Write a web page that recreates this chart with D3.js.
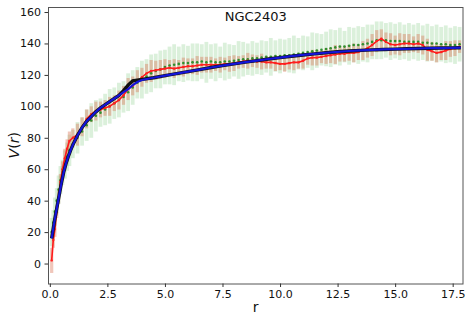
<!DOCTYPE html>
<html>
<head>
<meta charset="utf-8">
<script src="https://cdn.jsdelivr.net/npm/d3@7"></script>
<style>
  body { margin: 0; background: #fff; }
  text { font-family: "DejaVu Sans", sans-serif; }
</style>
</head>
<body>
<div id="chart"></div>
<script>
// Radii of the observed rotation curve points
const radius = [0.08,0.15,0.22,0.3,0.38,0.46,0.55,0.65,0.75,0.85,
  1.0,1.2,1.4,1.6,1.8,2.0,2.2,2.4,2.6,2.8,
  3.0,3.2,3.4,3.6,3.8,4.0,4.2,4.4,4.6,4.8,
  5.0,5.2,5.4,5.6,5.8,6.0,6.2,6.4,6.6,6.8,
  7.0,7.2,7.4,7.6,7.8,8.0,8.2,8.4,8.6,8.8,
  9.0,9.2,9.4,9.6,9.8,10.0,10.2,10.4,10.6,10.8,
  11.0,11.2,11.4,11.6,11.8,12.0,12.2,12.4,12.6,12.8,
  13.0,13.2,13.4,13.6,13.8,14.0,14.2,14.4,14.6,14.8,
  15.0,15.2,15.4,15.6,15.8,16.0,16.2,16.4,16.6,16.8,
  17.0,17.2,17.4,17.6,17.8];

// Green series (points + wide error bars)
const vGreen = [20,26,33,40,47,53,58,63,68,72,
  76,80,84,88,91,94,96,98,100,102,
  104,106,109,112,115,117,119,121,122.5,123.5,
  125,126,126.5,127,127.5,127.5,128,128,128.5,128,
  128.5,128,128,128.5,128.5,129,129.5,130,130,130.5,
  130.5,131,131.5,131.5,132,132,132.5,132.5,133,133.5,
  134,134.5,135,135.5,136,136.5,137,137.5,138,138,
  138.5,139,139,139.5,140,141,142,142,142,141.5,
  141.5,141.5,141,141,141,141,140.5,140.5,140,140,
  139.5,139.5,139,139,139.5];
const eGreen = [9,8,9,8,9,9,8,9,9,10,
  9,10,9,10,11,10,9,10,11,10,
  11,10,12,11,10,12,11,12,11,12,
  11,12,13,11,12,11,12,12,11,13,
  11,12,10,12,11,10,12,11,10,11,
  10,11,10,12,10,11,10,11,12,10,
  11,10,12,11,10,11,12,11,12,10,
  12,11,12,11,12,11,12,12,11,12,
  11,12,11,12,11,12,11,12,11,12,
  11,12,11,12,11];

// Red series (line + error bars)
const vRed = [2,15,22,33,42,52,60,67,73,78,
  80,82,87,92,95,97,98,99,100,102,
  104,107,111,113,116,118.5,121,122.5,123,123.5,
  124,124.5,124,124.5,125,125.5,125.5,126,126.5,126.5,
  126.5,126.5,126.5,127,127,127.5,128,128.5,129,129,
  128.5,128.5,128,128,127.5,127,127,127.5,128,128,
  129,130.5,131,131,131.5,132,132.5,133,133.5,133.5,
  134,134,134.5,135.5,137,139,141.5,143,141,139.5,
  139,139.5,140,140,139.5,140,139,136,135,134,
  134.5,135.5,136.5,137,138];
const eRed = [8,5,5,4,4,5,5,6,6,6,
  6,7,6,6,5,6,5,5,6,5,
  6,6,7,6,7,6,6,7,6,6,
  6,5,6,5,6,5,5,6,5,5,
  5,4,5,4,5,5,4,4,5,4,
  4,5,4,4,5,4,5,4,5,4,
  5,4,5,5,4,5,5,6,5,5,
  5,6,5,6,6,7,7,6,6,7,
  6,7,6,6,5,6,6,7,6,6,
  5,6,5,5,4];

// Model curves
const rModel = [0.08,0.2,0.3,0.4,0.5,0.6,0.7,0.8,0.9,1.0,1.2,1.4,1.6,1.8,2.0,2.2,
  2.5,2.8,3.0,3.2,3.4,3.6,3.8,4.0,4.5,5.0,5.5,6.0,6.5,7.0,7.5,8.0,8.5,9.0,9.5,
  10.0,10.5,11.0,11.5,12.0,12.5,13.0,13.5,14.0,14.5,15.0,15.5,16.0,16.5,17.0,17.5,17.85];
const vModel = [16,27,35,43,51,58,63.5,68,72,75.5,81.5,86.5,90.5,93.5,96.5,99,
  102,105,107,109,111,113.5,115.5,116.8,118.2,119.5,120.8,122.1,123.4,124.7,125.9,127,128.1,129.1,130.1,
  131,131.9,132.7,133.4,134.1,134.7,135.2,135.6,135.9,136.2,136.4,136.6,136.8,137,137.1,137.2,137.3];
const vBlack = [16,27,35,43,51,58,63.5,68,72,75.5,81.5,86.5,90.5,93.5,96.5,99,
  102,105,107,110,113.5,116.2,116.7,117.2,118.2,119.5,120.8,122.1,123.4,124.7,125.9,127,128.1,129.1,130.1,
  131,131.9,132.7,133.4,134.1,134.7,135.2,135.6,135.9,136.2,136.4,136.6,136.8,137,137.1,137.2,137.3];

const yTicks = [0,20,40,60,80,100,120,140,160];
const xTicks = [0,2.5,5,7.5,10,12.5,15,17.5];

const width = 471, height = 322;
const margin = {top: 7, right: 7.5, bottom: 38.5, left: 48};
const innerWidth = width - margin.left - margin.right;
const innerHeight = height - margin.top - margin.bottom;

const svg = d3.select("#chart").append("svg")
  .attr("width", width)
  .attr("height", height);

const g = svg.append("g")
  .attr("transform", `translate(${margin.left},${margin.top})`);

// Scales
const xScale = d3.scaleLinear().domain([-0.08, 17.97]).range([0, innerWidth]);
const yScale = d3.scaleLinear().domain([-12.7, 163.2]).range([innerHeight, 0]);

const green = radius.map((r, i) => ({r, v: vGreen[i], e: eGreen[i]}));
const red = radius.map((r, i) => ({r, v: vRed[i], e: eRed[i]}));

// Green error bars
g.append("g").selectAll("line")
  .data(green)
  .join("line")
  .attr("x1", d => xScale(d.r)).attr("x2", d => xScale(d.r))
  .attr("y1", d => yScale(d.v - d.e)).attr("y2", d => yScale(d.v + d.e))
  .attr("stroke", "#8fcf8f")
  .attr("stroke-opacity", 0.32)
  .attr("stroke-width", 3.8);

// Red error bars
g.append("g").selectAll("line")
  .data(red)
  .join("line")
  .attr("x1", d => xScale(d.r)).attr("x2", d => xScale(d.r))
  .attr("y1", d => yScale(d.v - d.e)).attr("y2", d => yScale(d.v + d.e))
  .attr("stroke", "#d8684a")
  .attr("stroke-opacity", 0.38)
  .attr("stroke-width", 3.2);

// Green points
g.append("g").selectAll("circle")
  .data(green)
  .join("circle")
  .attr("cx", d => xScale(d.r))
  .attr("cy", d => yScale(d.v))
  .attr("r", 1.3)
  .attr("fill", "#2f8f2f");

// Red line with markers
const line = d3.line()
  .x(d => xScale(d.r))
  .y(d => yScale(d.v));

g.append("path")
  .attr("d", line(red))
  .attr("fill", "none")
  .attr("stroke", "#ff1a1a")
  .attr("stroke-width", 1.6);

g.append("g").selectAll("circle")
  .data(red)
  .join("circle")
  .attr("cx", d => xScale(d.r))
  .attr("cy", d => yScale(d.v))
  .attr("r", 1.2)
  .attr("fill", "#ff2020");

// Black and blue model curves
g.append("path")
  .attr("d", line(rModel.map((r, i) => ({r, v: vBlack[i]}))))
  .attr("fill", "none")
  .attr("stroke", "#111")
  .attr("stroke-width", 3.4);

g.append("path")
  .attr("d", line(rModel.map((r, i) => ({r, v: vModel[i]}))))
  .attr("fill", "none")
  .attr("stroke", "#1414d8")
  .attr("stroke-width", 2.2);

// Frame
g.append("rect")
  .attr("x", 0.5).attr("y", 0.5)
  .attr("width", innerWidth - 1).attr("height", innerHeight)
  .attr("fill", "none")
  .attr("stroke", "#555")
  .attr("stroke-width", 1);

// Axes
const yAxis = g.append("g")
  .call(d3.axisLeft(yScale).tickValues(yTicks).tickSize(3.5).tickPadding(3.5).tickFormat(d3.format("d")));
const xAxis = g.append("g")
  .attr("transform", `translate(0,${innerHeight})`)
  .call(d3.axisBottom(xScale).tickValues(xTicks).tickSize(3.5).tickPadding(3.5).tickFormat(d3.format(".1f")));

[xAxis, yAxis].forEach(a => {
  a.select(".domain").remove();
  a.selectAll(".tick line").attr("stroke", "#333");
  a.selectAll(".tick text")
    .attr("font-family", "DejaVu Sans, sans-serif")
    .attr("font-size", "11px")
    .attr("fill", "#111");
});

// Title
g.append("text")
  .attr("x", innerWidth / 2)
  .attr("y", 14)
  .attr("text-anchor", "middle")
  .attr("font-size", "13px")
  .attr("fill", "#111")
  .text("NGC2403");

// Axis labels
svg.append("text")
  .attr("x", margin.left + innerWidth / 2)
  .attr("y", 312)
  .attr("text-anchor", "middle")
  .attr("font-size", "14px")
  .attr("fill", "#111")
  .text("r");

const ylab = svg.append("text")
  .attr("transform", `translate(19,${margin.top + innerHeight / 2}) rotate(-90)`)
  .attr("text-anchor", "middle")
  .attr("font-size", "14px")
  .attr("fill", "#111");
ylab.append("tspan").attr("font-style", "italic").text("V");
ylab.append("tspan").text("(");
ylab.append("tspan").attr("font-style", "italic").text("r");
ylab.append("tspan").text(")");
</script>
</body>
</html>
